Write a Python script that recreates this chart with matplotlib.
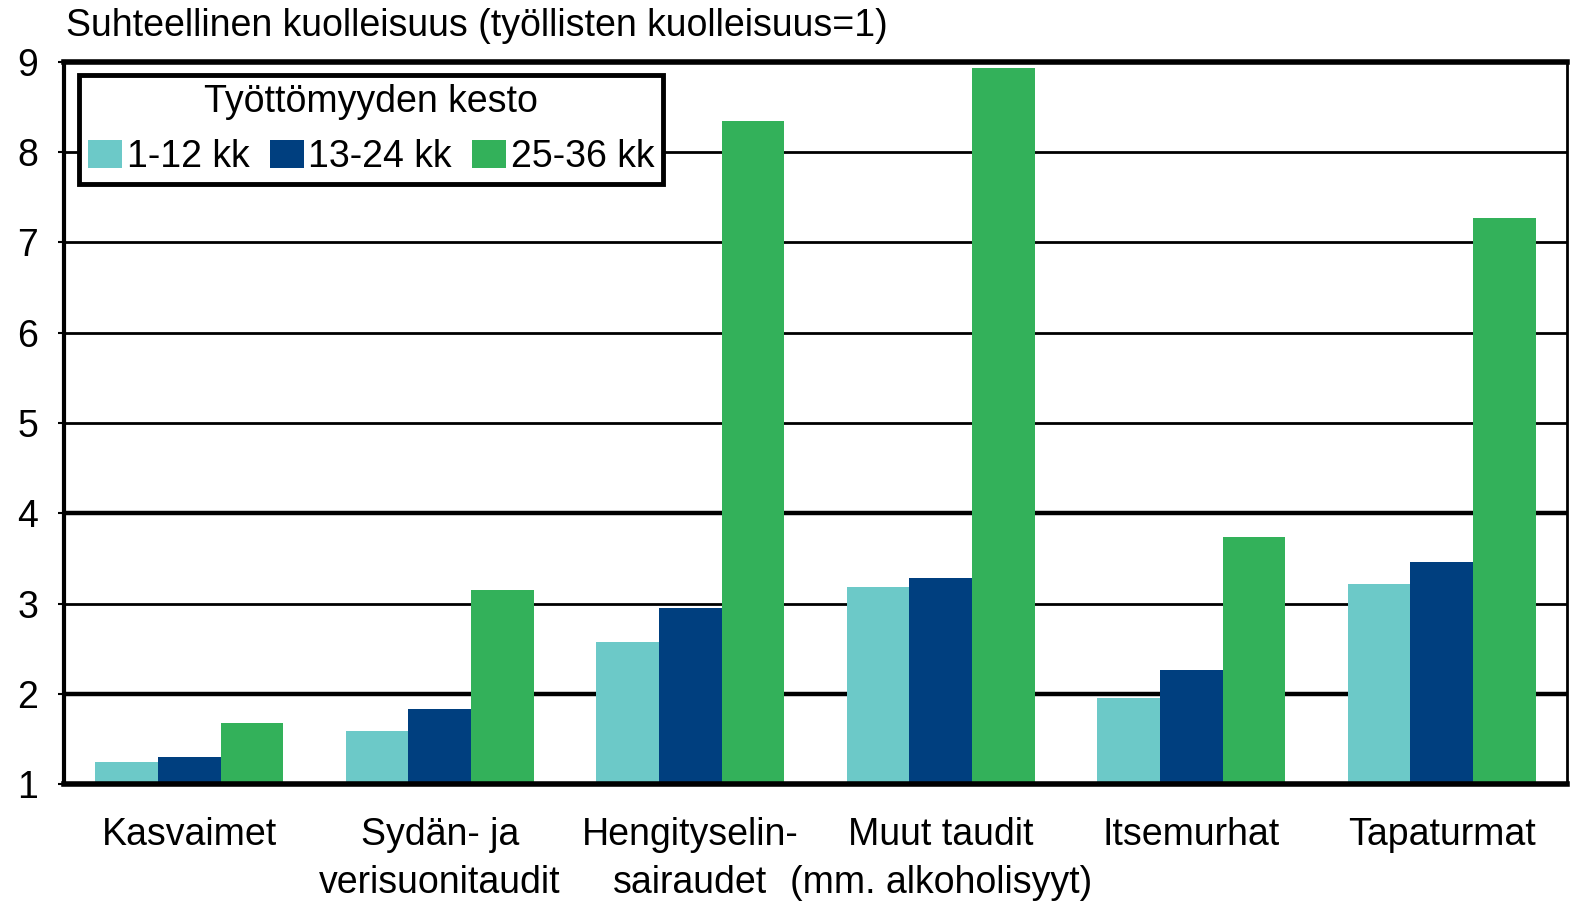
import numpy as np
import matplotlib
matplotlib.use("Agg")
import matplotlib.pyplot as plt

plt.rcParams['font.family'] = ['Liberation Sans', 'DejaVu Sans']

# ---------- data ----------
categories = ["Kasvaimet", "Sydän- ja\nverisuonitaudit", "Hengityselin-\nsairaudet",
              "Muut taudit\n(mm. alkoholisyyt)", "Itsemurhat", "Tapaturmat"]
series_names = ["1-12 kk", "13-24 kk", "25-36 kk"]
v_1_12 = [1.24, 1.59, 2.57, 3.18, 1.95, 3.22]
v_13_24 = [1.30, 1.83, 2.95, 3.28, 2.26, 3.46]
v_25_36 = [1.68, 3.15, 8.35, 8.93, 3.74, 7.27]
yticks = [1, 2, 3, 4, 5, 6, 7, 8, 9]

colors = ["#6CC9C8", "#003F7F", "#33B15A"]
FS = 27

fig = plt.figure(figsize=(15.75, 9.05), dpi=100)
ax = fig.add_axes([64 / 1575, 1 - 784 / 905, (1567 - 64) / 1575, (784 - 62) / 905])

x = np.arange(len(categories))
w = 0.25
for i, (vals, name) in enumerate(zip([v_1_12, v_13_24, v_25_36], series_names)):
    ax.bar(x + (i - 1) * w, np.array(vals) - 1, width=w, bottom=1,
           color=colors[i], label=name, zorder=3)

ax.set_xlim(-0.5, len(categories) - 0.5)
ax.set_ylim(1, 9)
ax.set_yticks(yticks)

# grid lines (2 and 4 appear heavier in the original)
for t in yticks[1:-1]:
    lw = 3.2 if t in (2, 4) else 2.0
    ax.axhline(t, color="black", lw=lw, zorder=1)

ax.set_xticks(x)
ax.set_xticklabels(categories, fontsize=FS, linespacing=1.4)
ax.tick_params(axis="x", length=0, pad=24)
ax.tick_params(axis="y", labelsize=FS, length=4, width=1.5, pad=22)
for lab in ax.get_yticklabels():
    lab.set_horizontalalignment("center")

for side, lw in [("left", 3), ("bottom", 4), ("top", 4), ("right", 2)]:
    ax.spines[side].set_linewidth(lw)
    ax.spines[side].set_color("black")
    ax.spines[side].set_zorder(4)

fig.text(66 / 1575, 1 - 26 / 905, "Suhteellinen kuolleisuus (työllisten kuolleisuus=1)",
         fontsize=FS, ha="left", va="center")

leg = ax.legend(title="Työttömyyden kesto", ncol=3, loc="upper left",
                bbox_to_anchor=(0.01, 0.982), fontsize=FS, title_fontsize=FS,
                frameon=True, fancybox=False, edgecolor="black", framealpha=1,
                handlelength=0.9, handleheight=0.75, handletextpad=0.12,
                columnspacing=0.55, borderpad=0.25, labelspacing=0.5, borderaxespad=0)
leg.get_frame().set_linewidth(3.5)
leg.set_zorder(5)

plt.savefig("out.png", dpi=100)
